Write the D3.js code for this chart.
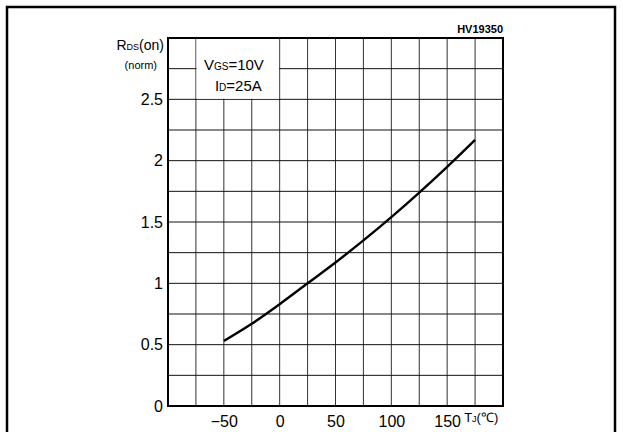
<!DOCTYPE html>
<html>
<head>
<meta charset="utf-8">
<script src="https://cdn.jsdelivr.net/npm/d3@7"></script>
<style>
  body { margin: 0; background: #fff; }
  svg { display: block; }
  .tick text { font-family: "Liberation Sans", Arial, sans-serif; font-size: 16px; fill: #000; }
  .lbl { font-family: "Liberation Sans Narrow", "Liberation Sans", Arial, sans-serif; fill: #000; }
</style>
</head>
<body>
<div id="canvas"></div>
<script>
// chart data
const tempC = [-50, -25, 0, 25, 50, 75, 100, 125, 150, 175];
const rdsNorm = [0.53, 0.67, 0.83, 1.00, 1.17, 1.35, 1.54, 1.74, 1.95, 2.17];
const xTicks = [-50, 0, 50, 100, 150];
const yTicks = [0, 0.5, 1, 1.5, 2, 2.5];
const xGrid = [-75, -50, -25, 0, 25, 50, 75, 100, 125, 150, 175];
const yGrid = [0.25, 0.5, 0.75, 1, 1.25, 1.5, 1.75, 2, 2.25, 2.5, 2.75];
const xDomain = [-100, 200];
const yDomain = [0, 3];
// legend box sits over the grid cells
const legendCells = {t0: -75, t1: 0, r0: 2.5, r1: 3};

const W = 623, H = 432;
const margin = {top: 38, left: 168, right: 120, bottom: 26};
const width = W - margin.left - margin.right,
    height = H - margin.top - margin.bottom;

const svg = d3.select("#canvas")
    .append("svg")
    .attr("width", W)
    .attr("height", H);

// outer frame (bottom edge runs off the page)
svg.append("path")
    .attr("d", "M7," + H + "V7H615V" + H)
    .attr("fill", "none")
    .attr("stroke", "#000")
    .attr("stroke-width", 2.5);

const g = svg.append("g")
    .attr("transform", "translate(" + margin.left + "," + margin.top + ")");

const x = d3.scaleLinear().domain(xDomain).range([0, width]);
const y = d3.scaleLinear().domain(yDomain).range([height, 0]);

// grid
g.selectAll(".vgrid")
    .data(xGrid)
    .join("line")
    .attr("x1", d => x(d)).attr("x2", d => x(d))
    .attr("y1", 0).attr("y2", height)
    .attr("stroke", "#333")
    .attr("stroke-width", 1);

g.selectAll(".hgrid")
    .data(yGrid)
    .join("line")
    .attr("x1", 0).attr("x2", width)
    .attr("y1", d => y(d)).attr("y2", d => y(d))
    .attr("stroke", "#111")
    .attr("stroke-width", 1);

// legend box
g.append("rect")
    .attr("x", x(legendCells.t0) + 0.6)
    .attr("y", y(legendCells.r1))
    .attr("width", x(legendCells.t1) - x(legendCells.t0) - 1.2)
    .attr("height", y(legendCells.r0) - y(legendCells.r1) - 0.6)
    .attr("fill", "#fff");

const vgs = g.append("text")
    .attr("class", "lbl")
    .attr("x", x(legendCells.t0) + 8)
    .attr("y", y(2.75) + 1)
    .style("font-size", "15px");
vgs.append("tspan").text("V");
vgs.append("tspan").style("font-size", "10px").text("GS");
vgs.append("tspan").text("=10V");

const idl = g.append("text")
    .attr("class", "lbl")
    .attr("x", x(legendCells.t0) + 19)
    .attr("y", y(2.5) - 8)
    .style("font-size", "15px");
idl.append("tspan").text("I");
idl.append("tspan").style("font-size", "10px").text("D");
idl.append("tspan").text("=25A");

// plot frame
g.append("rect")
    .attr("width", width)
    .attr("height", height)
    .attr("fill", "none")
    .attr("stroke", "#000")
    .attr("stroke-width", 2);

// axes labels
const xAxis = g.append("g")
    .attr("transform", "translate(0," + height + ")")
    .call(d3.axisBottom(x).tickValues(xTicks).tickSize(0).tickPadding(10)
        .tickFormat(d => d < 0 ? "\u2212" + Math.abs(d) : d));
xAxis.select(".domain").remove();

const yAxis = g.append("g")
    .call(d3.axisLeft(y).tickValues(yTicks).tickSize(0).tickPadding(5)
        .tickFormat(d => d));
yAxis.select(".domain").remove();

// curve
g.append("path")
    .datum(tempC.map((t, i) => [t, rdsNorm[i]]))
    .attr("fill", "none")
    .attr("stroke", "#000")
    .attr("stroke-width", 2.4)
    .attr("d", d3.line()
        .curve(d3.curveMonotoneX)
        .x(d => x(d[0]))
        .y(d => y(d[1])));

// axis titles
const rl = g.append("text")
    .attr("class", "lbl")
    .attr("x", -4)
    .attr("y", 12)
    .attr("text-anchor", "end")
    .style("font-size", "14px");
rl.append("tspan").text("R");
rl.append("tspan").style("font-size", "9px").text("DS");
rl.append("tspan").text("(on)");

g.append("text")
    .attr("class", "lbl")
    .attr("x", -11)
    .attr("y", 31)
    .attr("text-anchor", "end")
    .style("font-size", "11px")
    .text("(norm)");

const tl = g.append("text")
    .attr("class", "lbl")
    .attr("x", x(150) + 17)
    .attr("y", height + 16)
    .style("font-size", "13px");
tl.append("tspan").text("T");
tl.append("tspan").style("font-size", "9px").text("J");
tl.append("tspan").text("(\u2103)");

g.append("text")
    .attr("x", width)
    .attr("y", -5)
    .attr("text-anchor", "end")
    .style("font-family", "'Liberation Sans', Arial, sans-serif")
    .style("font-size", "11px")
    .style("font-weight", "bold")
    .text("HV19350");
</script>
</body>
</html>
